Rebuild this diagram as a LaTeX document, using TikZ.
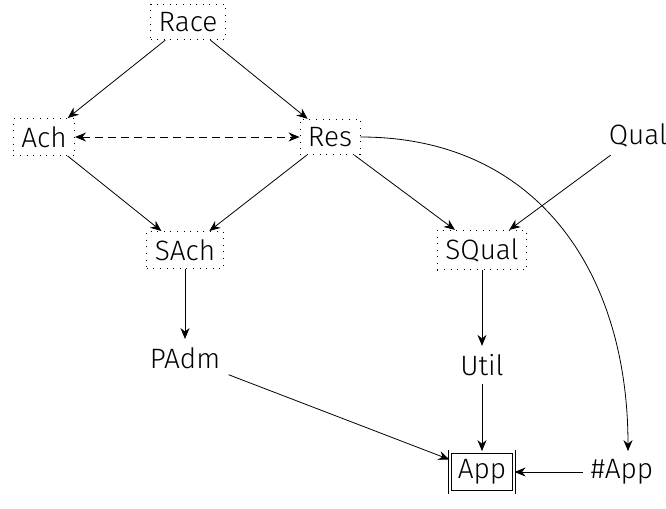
\documentclass[tikz,border=0pt]{standalone}
\usepackage{fontspec}
\setmainfont{Fira Sans Light}
\usetikzlibrary{arrows.meta}
\tikzset{
    vnode/.style={draw=none,inner sep=4pt,font=\fontsize{14}{16}\selectfont},
    lnode/.style={vnode,draw,dash pattern=on 0.5pt off 2.8pt},
    obs/.style={vnode,draw,double,double distance=1.2pt},
    dag/.style={
        x=0.5pt,y=-0.5pt,
        >={Stealth[length=5.5pt,width=4.5pt]},
        every node/.style=vnode,
        every edge/.style={draw,->},
    }
}
\begin{document}
\begin{tikzpicture}[dag]
\useasboundingbox (0,0) rectangle (666,509);
\node[lnode] (race) at (188,22) {Race};
\node[lnode] (ach) at (44,137) {Ach};
\node[lnode] (res) at (330,137) {Res};
\node (qual) at (638,135) {Qual};
\node[lnode] (sach) at (185,250) {SAch};
\node[lnode] (squal) at (482,250) {SQual};
\node (padm) at (185,358) {PAdm};
\node (util) at (482,365) {Util};
\node[obs] (app) at (482,472) {App};
\node (napp) at (622,472) {\#App};
\path
    (race) edge (ach)
    (race) edge (res)
    (ach) edge[dash pattern=on 4pt off 2.5pt,<->] (res)
    (ach) edge (sach)
    (res) edge (sach)
    (res) edge (squal)
    (qual) edge (squal)
    (sach) edge (padm)
    (squal) edge (util)
    (util) edge (app)
    (padm) edge (app)
    (napp) edge (app)
    (res.east) edge[out=0,in=90,looseness=1.1] ([xshift=3pt]napp.north)
;
\end{tikzpicture}
\end{document}
